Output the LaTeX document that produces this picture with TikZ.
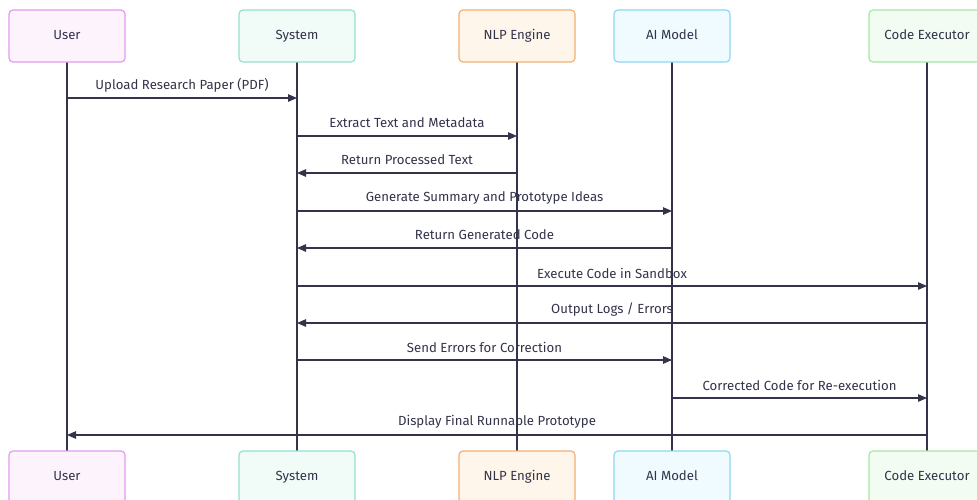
\documentclass[tikz,border=0pt]{standalone}
\usepackage{fontspec}
\setmainfont{Fira Sans}
\usepackage{tikz}
\usetikzlibrary{arrows.meta}

\definecolor{ink}{HTML}{33334A}
\definecolor{userline}{HTML}{E39AF0}
\definecolor{userfill}{HTML}{FCF3FD}
\definecolor{sysline}{HTML}{94E0CF}
\definecolor{sysfill}{HTML}{F1FBF8}
\definecolor{nlpline}{HTML}{F4AE72}
\definecolor{nlpfill}{HTML}{FFF6EB}
\definecolor{ailine}{HTML}{8CD9F2}
\definecolor{aifill}{HTML}{EFFBFE}
\definecolor{execline}{HTML}{A6E6A4}
\definecolor{execfill}{HTML}{F3FCF2}

\tikzset{
  actor/.style={draw, line width=1.2pt, rounded corners=4pt, minimum width=116pt,
    minimum height=52pt, text=ink, text height=9pt, text depth=3pt,
    font=\fontsize{13.2}{15}\selectfont},
  life/.style={draw=ink, line width=1.1pt},
  msg/.style={draw=ink, line width=1.1pt, -{Triangle[length=9pt,width=7.5pt]}},
  lbl/.style={text=ink, font=\fontsize{13.2}{15}\selectfont, yshift=13pt}
}

\begin{document}
\begin{tikzpicture}[x=1pt,y=-1pt]
  \useasboundingbox (0,0) rectangle (977,499);
  % lifelines first, boxes go on top
  \path (67,0) coordinate (userx) (297,0) coordinate (sysx) (517,0) coordinate (nlpx)
        (672,0) coordinate (aix) (927,0) coordinate (execx);
  \draw[life] (userx |- 0,62) -- (userx |- 0,451);
  \draw[life] (sysx |- 0,62) -- (sysx |- 0,451);
  \draw[life] (nlpx |- 0,62) -- (nlpx |- 0,451);
  \draw[life] (aix |- 0,62) -- (aix |- 0,451);
  \draw[life] (execx |- 0,62) -- (execx |- 0,451);

  % participants, top row
  \node[actor, draw=userline, fill=userfill] (user) at (67,36) {User};
  \node[actor, draw=sysline, fill=sysfill] (sys) at (297,36) {System};
  \node[actor, draw=nlpline, fill=nlpfill] (nlp) at (517,36) {NLP Engine};
  \node[actor, draw=ailine, fill=aifill] (ai) at (672,36) {AI Model};
  \node[actor, draw=execline, fill=execfill] (exec) at (927,36) {Code Executor};

  % participants, bottom row
  \node[actor, draw=userline, fill=userfill] (userB) at (67,477) {User};
  \node[actor, draw=sysline, fill=sysfill] (sysB) at (297,477) {System};
  \node[actor, draw=nlpline, fill=nlpfill] (nlpB) at (517,477) {NLP Engine};
  \node[actor, draw=ailine, fill=aifill] (aiB) at (672,477) {AI Model};
  \node[actor, draw=execline, fill=execfill] (execB) at (927,477) {Code Executor};

  % messages
  \draw[msg] (user |- 0,98) -- node[lbl] {Upload Research Paper (PDF)} (sys |- 0,98);
  \draw[msg] (sys |- 0,136) -- node[lbl] {Extract Text and Metadata} (nlp |- 0,136);
  \draw[msg] (nlp |- 0,173) -- node[lbl] {Return Processed Text} (sys |- 0,173);
  \draw[msg] (sys |- 0,211) -- node[lbl] {Generate Summary and Prototype Ideas} (ai |- 0,211);
  \draw[msg] (ai |- 0,248) -- node[lbl] {Return Generated Code} (sys |- 0,248);
  \draw[msg] (sys |- 0,286) -- node[lbl] {Execute Code in Sandbox} (exec |- 0,286);
  \draw[msg] (exec |- 0,323) -- node[lbl] {Output Logs / Errors} (sys |- 0,323);
  \draw[msg] (sys |- 0,360) -- node[lbl] {Send Errors for Correction} (ai |- 0,360);
  \draw[msg] (ai |- 0,398) -- node[lbl] {Corrected Code for Re-execution} (exec |- 0,398);
  \draw[msg] (exec |- 0,435) -- node[lbl] {Display Final Runnable Prototype} (user |- 0,435);
\end{tikzpicture}
\end{document}
